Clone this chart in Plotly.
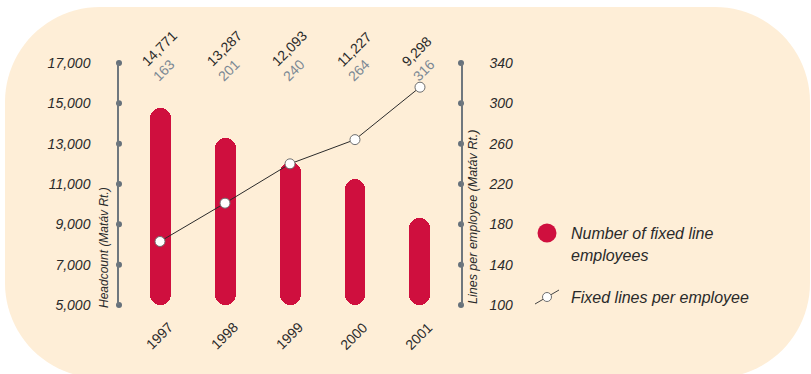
import math
import plotly.graph_objects as go

# ---- data -----------------------------------------------------------------
years = ["1997", "1998", "1999", "2000", "2001"]
headcount = [14771, 13287, 12093, 11227, 9298]          # number of fixed line employees
lines_per_employee = [163, 201, 240, 264, 316]          # fixed lines per employee

headcount_ticks = [5000, 7000, 9000, 11000, 13000, 15000, 17000]
lines_ticks = [100, 140, 180, 220, 260, 300, 340]

# ---- styling ----------------------------------------------------------------
W, H = 811, 374
PL, PR, PT, PB = 119, 461, 63, 305          # plot area in pixels
RED = "#CF0F3E"
PANEL = "#FEEED7"
AXIS = "#6F777E"
DOT = "#66717B"
TEXT = "#2A2A2A"
GREY_LABEL = "#7B8894"
FONT = "Liberation Sans, Arial, Helvetica, sans-serif"

X_RANGE = [-0.631, 4.631]
BAR_W = 0.323


def px_x(px):
    return (px - PL) / (PR - PL)


def px_y(py):
    return (PB - py) / (PB - PT)


idx = list(range(len(years)))
hc_min, hc_max = headcount_ticks[0], headcount_ticks[-1]
lp_min, lp_max = lines_ticks[0], lines_ticks[-1]

fig = go.Figure()

# capsule bars built from three overlaid pieces:
#   upper half rounded at the top, lower half rounded at the bottom,
#   and a square middle piece that hides the joint
mid = [(hc_min + v) / 2 for v in headcount]
bar_common = dict(x=idx, width=BAR_W, hoverinfo="skip", showlegend=False)
fig.add_trace(go.Bar(
    y=[v - m for v, m in zip(headcount, mid)], base=mid,
    marker=dict(color=RED, cornerradius=10, line=dict(width=0)), **bar_common,
))
fig.add_trace(go.Bar(
    y=[hc_min - m for m in mid], base=mid,
    marker=dict(color=RED, cornerradius=10, line=dict(width=0)), **bar_common,
))
core_base = [hc_min + (v - hc_min) * 0.3 for v in headcount]
fig.add_trace(go.Bar(
    y=[(v - hc_min) * 0.4 for v in headcount], base=core_base,
    marker=dict(color=RED, cornerradius=0, line=dict(width=0)), **bar_common,
))

# dots on the two vertical axes
fig.add_trace(go.Scatter(
    x=[X_RANGE[0]] * len(headcount_ticks), y=headcount_ticks, mode="markers",
    marker=dict(size=6, color=DOT), cliponaxis=False, hoverinfo="skip", showlegend=False,
))
fig.add_trace(go.Scatter(
    x=[X_RANGE[1]] * len(lines_ticks), y=lines_ticks, yaxis="y2", mode="markers",
    marker=dict(size=6, color=DOT), cliponaxis=False, hoverinfo="skip", showlegend=False,
))

# lines per employee
fig.add_trace(go.Scatter(
    x=idx, y=lines_per_employee, yaxis="y2", mode="lines+markers",
    line=dict(color="#2B2B2B", width=1),
    marker=dict(size=10, color="white", line=dict(color="#6E6E6E", width=1)),
    cliponaxis=False, hoverinfo="skip", showlegend=False,
))


# ---- background panel with rounded corners ---------------------------------
def rounded_panel(x0, y0, x1, y1, r, n=24):
    pts = []
    corners = [
        (x1 - r, y0 + r, -90, 0),     # top right
        (x1 - r, y1 - r, 0, 90),      # bottom right
        (x0 + r, y1 - r, 90, 180),    # bottom left
        (x0 + r, y0 + r, 180, 270),   # top left
    ]
    for cx, cy, a0, a1 in corners:
        for k in range(n + 1):
            a = math.radians(a0 + (a1 - a0) * k / n)
            pts.append((cx + r * math.cos(a), cy + r * math.sin(a)))
    return "M " + " L ".join(f"{px_x(px):.5f},{px_y(py):.5f}" for px, py in pts) + " Z"


shapes = [dict(
    type="path", xref="paper", yref="paper", path=rounded_panel(5, 7, 810, 378, 95),
    fillcolor=PANEL, line=dict(width=0), layer="below",
)]


def pixel_circle(cx, cy, r, fill, line_color=None, line_width=0):
    return dict(
        type="circle", xref="paper", yref="paper", xsizemode="pixel", ysizemode="pixel",
        xanchor=px_x(cx), yanchor=px_y(cy), x0=-r, x1=r, y0=-r, y1=r,
        fillcolor=fill, line=dict(color=line_color or fill, width=line_width), layer="above",
    )


# legend symbols
shapes.append(pixel_circle(547, 233, 9.5, RED))
shapes.append(dict(
    type="line", xref="paper", yref="paper", xsizemode="pixel", ysizemode="pixel",
    xanchor=px_x(547), yanchor=px_y(297), x0=-12, x1=12, y0=-7, y1=7,
    line=dict(color="#444444", width=1), layer="above",
))
shapes.append(pixel_circle(547, 297, 4.5, "white", "#6E6E6E", 1))

# ---- text -------------------------------------------------------------------
annotations = []
for i, (hc, lp) in enumerate(zip(headcount, lines_per_employee)):
    annotations.append(dict(
        x=i, y=px_y(72), xref="x", yref="paper", xshift=-24, xanchor="left", yanchor="bottom",
        text=f"{hc:,}", textangle=-45, showarrow=False,
        font=dict(family=FONT, size=14, color=TEXT),
    ))
    annotations.append(dict(
        x=i, y=px_y(87), xref="x", yref="paper", xshift=-13, xanchor="left", yanchor="bottom",
        text=f"{lp}", textangle=-45, showarrow=False,
        font=dict(family=FONT, size=14, color=GREY_LABEL),
    ))

for i, yr in enumerate(years):
    annotations.append(dict(
        x=i, y=px_y(336), xref="x", yref="paper", xshift=-1, xanchor="center", yanchor="middle",
        text=yr, textangle=-45, showarrow=False,
        font=dict(family=FONT, size=14, color=TEXT),
    ))

annotations.append(dict(
    x=px_x(104), y=px_y(248), xref="paper", yref="paper", xanchor="center", yanchor="middle",
    text="Headcount (Matáv Rt.)", textangle=-90, showarrow=False,
    font=dict(family=FONT, size=12, color=TEXT, style="italic"),
))
annotations.append(dict(
    x=px_x(473), y=px_y(217), xref="paper", yref="paper", xanchor="center", yanchor="middle",
    text="Lines per employee (Matáv Rt.)", textangle=-90, showarrow=False,
    font=dict(family=FONT, size=12.5, color=TEXT, style="italic"),
))

legend_font = dict(family=FONT, size=16, color=TEXT, style="italic")
annotations.append(dict(
    x=px_x(569), y=px_y(233), xref="paper", yref="paper", xanchor="left", yanchor="middle",
    text="Number of fixed line", showarrow=False, font=legend_font,
))
annotations.append(dict(
    x=px_x(569), y=px_y(255), xref="paper", yref="paper", xanchor="left", yanchor="middle",
    text="employees", showarrow=False, font=legend_font,
))
annotations.append(dict(
    x=px_x(569), y=px_y(297), xref="paper", yref="paper", xanchor="left", yanchor="middle",
    text="Fixed lines per employee", showarrow=False, font=legend_font,
))

tick_font = dict(family=FONT, size=14, color=TEXT, style="italic")

fig.update_layout(
    width=W, height=H,
    margin=dict(l=PL, r=W - PR, t=PT, b=H - PB, pad=0),
    paper_bgcolor="white", plot_bgcolor="rgba(0,0,0,0)",
    barmode="overlay", bargap=0, showlegend=False,
    xaxis=dict(range=X_RANGE, showgrid=False, zeroline=False, showticklabels=False,
               showline=False, ticks="", fixedrange=True),
    yaxis=dict(range=[hc_min, hc_max], tickvals=headcount_ticks,
               ticktext=[f"{v:,}" for v in headcount_ticks],
               showgrid=False, zeroline=False, showline=True, linecolor=AXIS, linewidth=1.5,
               ticks="", ticklabelstandoff=24, tickfont=tick_font, fixedrange=True),
    yaxis2=dict(range=[lp_min, lp_max], tickvals=lines_ticks,
                ticktext=[str(v) for v in lines_ticks], overlaying="y", side="right",
                showgrid=False, zeroline=False, showline=True, linecolor=AXIS, linewidth=1.5,
                ticks="", ticklabelstandoff=24, tickfont=tick_font, fixedrange=True),
    shapes=shapes,
    annotations=annotations,
)

fig.write_html("out.html")
